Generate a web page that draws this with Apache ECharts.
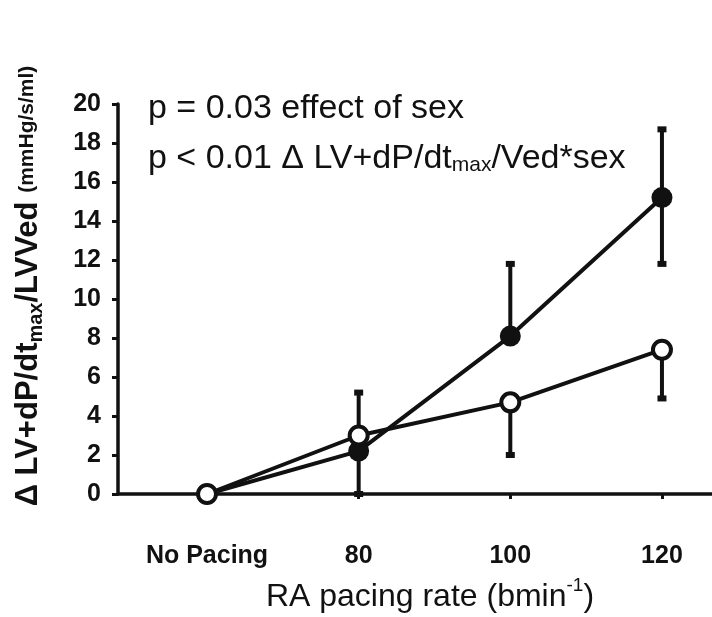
<!DOCTYPE html>
<html>
<head>
<meta charset="utf-8">
<script src="https://cdn.jsdelivr.net/npm/echarts@6/dist/echarts.min.js"></script>
<style>html,body{margin:0;padding:0;background:#fff;}#c{width:712px;height:617px;}</style>
</head>
<body>
<div id="c"></div>
<script>
// ---- data ----
var xPositions = [60, 80, 100, 120];
var xLabels = ['No Pacing', '80', '100', '120'];
var yTicks = [0, 2, 4, 6, 8, 10, 12, 14, 16, 18, 20];

var openMean = [0, 3.0, 4.7, 7.4];
var openLow = [null, 0.0, 2.0, 4.9];

var filledMean = [0, 2.2, 8.1, 15.2];
var filledHigh = [null, 5.2, 11.8, 18.7];
var filledLow = [null, null, null, 11.8];

var FONT = '"Liberation Sans", Arial, Helvetica, sans-serif';
var INK = '#111';

function pairs(means) {
  return xPositions.map(function (x, i) { return [x, means[i]]; });
}
function errData(means, lows, highs) {
  var out = [];
  xPositions.forEach(function (x, i) {
    var hasLo = lows && lows[i] != null, hasHi = highs && highs[i] != null;
    var lo = hasLo ? lows[i] : means[i];
    var hi = hasHi ? highs[i] : means[i];
    if (hasLo || hasHi) out.push([x, lo, hi, hasLo ? 1 : 0, hasHi ? 1 : 0]);
  });
  return out;
}

function renderErr(params, api) {
  var x = api.value(0);
  var pLo = api.coord([x, api.value(1)]);
  var pHi = api.coord([x, api.value(2)]);
  var children = [{
    type: 'line',
    shape: { x1: pLo[0], y1: pLo[1], x2: pHi[0], y2: pHi[1] },
    style: { stroke: INK, lineWidth: 4 }
  }];
  if (api.value(3)) children.push({ type: 'rect', shape: { x: pLo[0] - 4.5, y: pLo[1] - 3, width: 9, height: 6 }, style: { fill: INK } });
  if (api.value(4)) children.push({ type: 'rect', shape: { x: pHi[0] - 4.5, y: pHi[1] - 3, width: 9, height: 6 }, style: { fill: INK } });
  return { type: 'group', children: children };
}

var chart = echarts.init(document.getElementById('c'), null, { renderer: 'canvas' });
chart.setOption({
  backgroundColor: '#fff',
  animation: false,
  grid: { left: 118, right: 0, top: 104, bottom: 123, containLabel: false },
  xAxis: {
    type: 'value',
    min: 48.26,
    max: 126.6,
    axisLine: { onZero: false, lineStyle: { color: INK, width: 3.5 } },
    axisTick: { show: true, customValues: xPositions.slice(1), length: 5, inside: false, lineStyle: { color: INK, width: 3 } },
    axisLabel: {
      customValues: xPositions,
      formatter: function (v) { var i = xPositions.indexOf(v); return i >= 0 ? xLabels[i] : ''; },
      fontFamily: FONT, fontWeight: 'bold', fontSize: 25, color: INK, margin: 50
    },
    splitLine: { show: false }
  },
  yAxis: {
    type: 'value',
    min: 0,
    max: 20,
    interval: 2,
    axisLine: { show: true, lineStyle: { color: INK, width: 3.5 } },
    axisTick: { show: true, length: 6, inside: false, lineStyle: { color: INK, width: 3 } },
    axisLabel: { fontFamily: FONT, fontWeight: 'bold', fontSize: 25, color: INK, margin: 17 },
    splitLine: { show: false }
  },
  graphic: [
    {
      type: 'text', x: 31, y: 286, rotation: Math.PI / 2,
      style: {
        text: '{b|Δ LV+dP/dt}{s|max}{b|/LVVed }{m|(mmHg/s/ml)}',
        align: 'center', verticalAlign: 'middle',
        rich: {
          b: { fontFamily: FONT, fontWeight: 'bold', fontSize: 31, fill: INK, verticalAlign: 'top', lineHeight: 36 },
          s: { fontFamily: FONT, fontWeight: 'bold', fontSize: 20, fill: INK, verticalAlign: 'top', lineHeight: 36, padding: [13, 0, 0, 0] },
          m: { fontFamily: FONT, fontWeight: 'bold', fontSize: 21, fill: INK, verticalAlign: 'top', lineHeight: 36, padding: [4, 0, 0, 0] }
        }
      }
    },
    {
      type: 'text', x: 430, y: 594,
      style: {
        text: '{t|RA pacing rate (bmin}{u|-1}{t|)}',
        align: 'center', verticalAlign: 'middle',
        rich: {
          t: { fontFamily: FONT, fontSize: 32, fill: INK, verticalAlign: 'top', lineHeight: 36, padding: [5, 0, 0, 0] },
          u: { fontFamily: FONT, fontSize: 19, fill: INK, verticalAlign: 'top', lineHeight: 36 }
        }
      }
    },
    {
      type: 'text', x: 148, y: 92,
      style: { text: 'p = 0.03 effect of sex', fontFamily: FONT, fontSize: 34, fill: INK }
    },
    {
      type: 'text', x: 148, y: 142,
      style: {
        text: '{a|p < 0.01 Δ LV+dP/dt}{s|max}{a|/Ved*sex}',
        rich: {
          a: { fontFamily: FONT, fontSize: 34, fill: INK, verticalAlign: 'top', lineHeight: 38 },
          s: { fontFamily: FONT, fontSize: 21, fill: INK, verticalAlign: 'top', lineHeight: 38, padding: [13, 0, 0, 0] }
        }
      }
    }
  ],
  series: [
    {
      type: 'custom', name: 'filledErr', renderItem: renderErr, z: 1,
      encode: { x: 0, y: [1, 2] }, data: errData(filledMean, filledLow, filledHigh)
    },
    {
      type: 'custom', name: 'openErr', renderItem: renderErr, z: 1,
      encode: { x: 0, y: [1, 2] }, data: errData(openMean, openLow, null)
    },
    {
      type: 'line', name: 'filled', z: 3, data: pairs(filledMean),
      symbol: 'circle', symbolSize: 21,
      lineStyle: { color: INK, width: 4 },
      itemStyle: { color: INK, borderColor: INK, borderWidth: 0 }
    },
    {
      type: 'line', name: 'open', z: 4, data: pairs(openMean),
      symbol: 'circle', symbolSize: 18,
      lineStyle: { color: INK, width: 4 },
      itemStyle: { color: '#fff', borderColor: INK, borderWidth: 4 }
    }
  ]
});
</script>
</body>
</html>
